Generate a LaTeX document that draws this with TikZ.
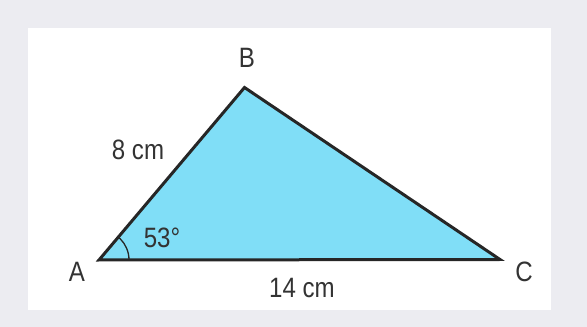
\documentclass[tikz,border=0pt]{standalone}
\usepackage{fontspec}
\setmainfont{Liberation Sans}[FakeStretch=0.86]
\definecolor{bgc}{HTML}{ECECF1}
\definecolor{tri}{HTML}{80DEF7}
\definecolor{ink}{HTML}{262626}
\definecolor{txt}{HTML}{333333}
\begin{document}
\begin{tikzpicture}[x=1pt,y=1pt,
  lbl/.style={text=txt,font=\fontsize{28}{28}\selectfont,inner sep=0pt}]
\useasboundingbox (0,0) rectangle (587,327);
\fill[bgc] (0,0) rectangle (587,327);
\fill[white] (28,17) rectangle (551,299);
\coordinate (A) at (99,67);
\coordinate (B) at (244.5,239.5);
\coordinate (C) at (500,67.5);
\fill[tri] (A) -- (B) -- (C) -- cycle;
\begin{scope}
\clip (A) -- (B) -- (C) -- cycle;
\draw[ink,line width=1.3pt] (A) circle (30);
\end{scope}
\draw[ink,line width=3pt,line join=miter] (A) -- (B) -- (C) -- cycle;
\node[lbl] (lA) at (77,55) {A};
\node[lbl] (lB) at (247,269) {B};
\node[lbl] (lC) at (524,55) {C};
\node[lbl] (l8) at (138,177) {8 cm};
\node[lbl] (l14) at (302,39) {14 cm};
\node[lbl] (l53) at (162,89) {53°};
\end{tikzpicture}
\end{document}
